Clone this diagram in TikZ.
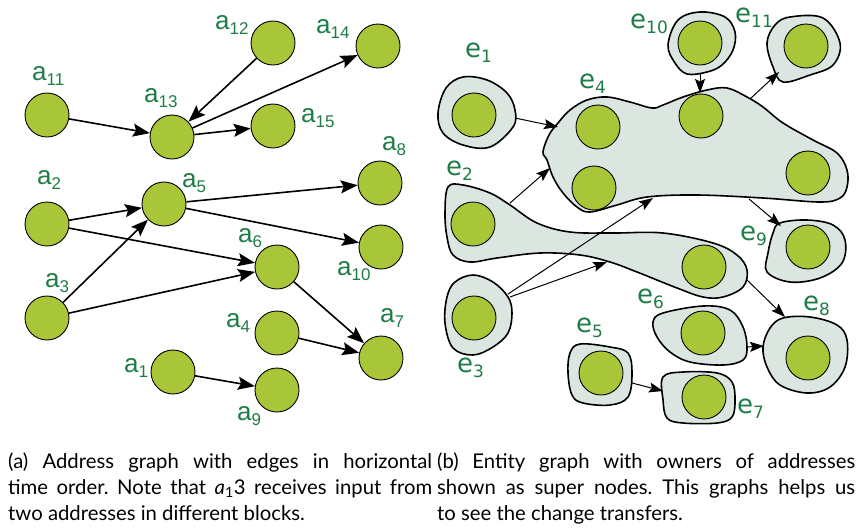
\documentclass[tikz,border=0pt]{standalone}
\usepackage{fontspec}
\setmainfont{Lato}
\newfontfamily\arialf{Liberation Sans}
\newfontfamily\dejaf{DejaVu Sans}
\usetikzlibrary{arrows.meta}
\definecolor{nodegreen}{RGB}{169,198,56}
\definecolor{labgreen}{RGB}{30,125,70}
\definecolor{blobfill}{RGB}{220,230,224}
\tikzset{
 anode/.style={circle, draw=black, line width=0.9pt, fill=nodegreen, minimum size=44pt, inner sep=0pt},
 aedge/.style={line width=1.6pt, -{Stealth[length=17pt,width=13pt,inset=3pt]}},
 eedge/.style={line width=1pt, -{Stealth[length=14pt,width=10pt,inset=2.5pt]}},
 blob/.style={draw=black, line width=1.6pt, fill=blobfill},
 alab/.style={text=labgreen, font=\arialf\fontsize{26}{26}\selectfont, inner sep=0pt, anchor=base west},
 elab/.style={text=labgreen, font=\dejaf\fontsize{26}{26}\selectfont, inner sep=0pt, anchor=base west},
 captext/.style={font=\fontsize{20.3}{20}\selectfont\frenchspacing, inner sep=0pt, anchor=base west},
}
\newcommand{\lsub}[1]{\raisebox{-5pt}{\fontsize{17}{17}\selectfont #1}}
\begin{document}
\begin{tikzpicture}[x=1pt,y=-1pt]
\useasboundingbox (0,0) rectangle (858,531);
% ---------- left graph ----------
\node[anode] (a11) at (47,115) {};
\node[anode] (a13) at (172,137) {};
\node[anode] (a12) at (273,43) {};
\node[anode] (a14) at (378,46) {};
\node[anode] (a15) at (273,126) {};
\node[anode] (a8) at (380,183) {};
\node[anode] (a5) at (164,204) {};
\node[anode] (a2) at (47,224) {};
\node[anode] (a3) at (47,318) {};
\node[anode] (a6) at (277,267) {};
\node[anode] (a10) at (381,247) {};
\node[anode] (a4) at (277,333) {};
\node[anode] (a7) at (381,358) {};
\node[anode] (a1) at (173,372) {};
\node[anode] (a9) at (277,390) {};
\node[alab] (la12) at (215,29) {a\lsub{12}};
\node[alab] (la14) at (316,33) {a\lsub{14}};
\node[alab] (la11) at (32,80) {a\lsub{11}};
\node[alab] (la13) at (144,102) {a\lsub{13}};
\node[alab] (la15) at (301,122) {a\lsub{15}};
\node[alab] (la8) at (382,150) {a\lsub{8}};
\node[alab] (la2) at (37,184) {a\lsub{2}};
\node[alab] (la5) at (182,187) {a\lsub{5}};
\node[alab] (la6) at (238,242) {a\lsub{6}};
\node[alab] (la10) at (337,275) {a\lsub{10}};
\node[alab] (la3) at (45,287) {a\lsub{3}};
\node[alab] (la4) at (226,327) {a\lsub{4}};
\node[alab] (la7) at (380,322) {a\lsub{7}};
\node[alab] (la1) at (124,372) {a\lsub{1}};
\node[alab] (la9) at (237,420) {a\lsub{9}};
\draw[aedge] (a11) -- (a13);
\draw[aedge] (a12) -- (a13);
\draw[aedge] (a13) -- (a14);
\draw[aedge] (a13) -- (a15);
\draw[aedge] (a2) -- (a5);
\draw[aedge] (a2) -- (a6);
\draw[aedge] (a3) -- (a5);
\draw[aedge] (a3) -- (a6);
\draw[aedge] (a5) -- (a8);
\draw[aedge] (a5) -- (a10);
\draw[aedge] (a6) -- (a7);
\draw[aedge] (a4) -- (a7);
\draw[aedge] (a1) -- (a9);
% ---------- right graph: super nodes ----------
\draw[blob] plot[smooth cycle, tension=0.6] coordinates {(543,152) (549,135) (558,123) (570,110) (587,100) (607,97) (630,102) (652,108) (663,105) (683,97) (707,90) (727,88) (747,97) (763,107) (783,123) (813,140) (837,153) (847,170) (847,187) (840,198) (820,202) (763,198) (697,195) (647,197) (617,205) (590,212) (577,207) (563,193) (553,177) (547,160)};
\draw[blob] plot[smooth cycle, tension=0.6] coordinates {(448,187) (463,185) (490,193) (510,205) (537,223) (570,232) (613,233) (663,233) (713,243) (737,255) (747,270) (743,287) (723,297) (703,297) (677,288) (637,272) (610,262) (580,255) (540,253) (497,258) (470,262) (453,255) (447,237) (445,213)};
\draw[blob] plot[smooth cycle, tension=0.6] coordinates {(438,113) (446,88) (463,77) (487,80) (507,93) (515,110) (513,127) (490,147) (463,145) (443,133)};
\draw[blob] plot[smooth cycle, tension=0.6] coordinates {(668,45) (678,20) (700,12) (725,17) (735,32) (733,50) (722,65) (707,72) (687,74) (675,63)};
\draw[blob] plot[smooth cycle, tension=0.6] coordinates {(767,43) (775,25) (790,17) (823,18) (840,43) (833,65) (810,75) (783,82) (773,67)};
\draw[blob] plot[smooth cycle, tension=0.6] coordinates {(473,275) (493,282) (508,297) (512,313) (508,333) (493,347) (473,355) (453,348) (445,323) (447,297) (455,282)};
\draw[blob] plot[smooth cycle, tension=0.6] coordinates {(780,223) (807,220) (833,225) (845,240) (842,263) (820,278) (790,282) (767,272) (768,253) (773,233)};
\draw[blob] plot[smooth cycle, tension=0.6] coordinates {(653,322) (663,313) (703,306) (730,310) (743,327) (747,347) (743,360) (723,365) (690,362) (670,352) (657,337)};
\draw[blob] plot[smooth cycle, tension=0.6] coordinates {(783,318) (810,317) (837,325) (847,340) (845,367) (830,387) (807,393) (780,385) (767,367) (763,347) (770,328)};
\draw[blob] plot[smooth cycle, tension=0.6] coordinates {(570,353) (580,344) (610,347) (628,353) (632,373) (628,397) (610,405) (583,403) (572,395) (568,373)};
\draw[blob] plot[smooth cycle, tension=0.6] coordinates {(663,377) (683,372) (717,373) (732,382) (735,400) (732,417) (717,423) (683,423) (667,418) (663,400)};
% inner address nodes
\node[anode] (e1c) at (474,115) {};
\node[anode] (e4a) at (598,127) {};
\node[anode] (e4b) at (594,188) {};
\node[anode] (e4c) at (701,116) {};
\node[anode] (e4d) at (808,173) {};
\node[anode] (e10c) at (700,43) {};
\node[anode] (e11c) at (806,46) {};
\node[anode] (e2a) at (473,224) {};
\node[anode] (e2b) at (704,267) {};
\node[anode] (e3c) at (474,318) {};
\node[anode] (e9c) at (808,247) {};
\node[anode] (e6c) at (703,333) {};
\node[anode] (e8c) at (808,358) {};
\node[anode] (e5c) at (601,373) {};
\node[anode] (e7c) at (704,397) {};
% labels
\node[elab] (le1) at (465,57) {e\lsub{1}};
\node[elab] (le4) at (579,88) {e\lsub{4}};
\node[elab] (le10) at (630,28) {e\lsub{10}};
\node[elab] (le11) at (735,22) {e\lsub{11}};
\node[elab] (le2) at (446,175) {e\lsub{2}};
\node[elab] (le3) at (457,372) {e\lsub{3}};
\node[elab] (le9) at (740,240) {e\lsub{9}};
\node[elab] (le6) at (637,303) {e\lsub{6}};
\node[elab] (le8) at (803,310) {e\lsub{8}};
\node[elab] (le5) at (576,332) {e\lsub{5}};
\node[elab] (le7) at (737,413) {e\lsub{7}};
% connector end points on super node borders
\coordinate (p1s) at (515,118); \coordinate (p1e) at (558,127);
\coordinate (p2s) at (510,203); \coordinate (p2e) at (550,168);
\coordinate (p3s) at (508,294); \coordinate (p3e) at (653,198);
\coordinate (p4s) at (510,297); \coordinate (p4e) at (607,262);
\coordinate (p5s) at (700,74);  \coordinate (p5e) at (700,93);
\coordinate (p6s) at (750,99);  \coordinate (p6e) at (779,72);
\coordinate (p7s) at (749,199); \coordinate (p7e) at (781,226);
\coordinate (p8s) at (747,280); \coordinate (p8e) at (785,317);
\coordinate (p9s) at (747,347); \coordinate (p9e) at (764,346);
\coordinate (p10s) at (632,383); \coordinate (p10e) at (663,391);
\draw[eedge] (p1s) -- (p1e);
\draw[eedge] (p2s) -- (p2e);
\draw[eedge] (p3s) -- (p3e);
\draw[eedge] (p4s) -- (p4e);
\draw[eedge] (p5s) -- (p5e);
\draw[eedge] (p6s) -- (p6e);
\draw[eedge] (p7s) -- (p7e);
\draw[eedge] (p8s) -- (p8e);
\draw[eedge] (p9s) -- (p9e);
\draw[eedge] (p10s) -- (p10e);
% ---------- captions ----------
\node[captext] (ca1) at (8,468) {\makebox[424pt][s]{(a) Address graph with edges in horizontal}};
\node[captext] (ca2) at (8,494) {\makebox[424pt][s]{time order. Note that {\itshape a}\textsubscript{1}3 receives input from}};
\node[captext] (ca3) at (8,520) {two addresses in different blocks.};
\node[captext] (cb1) at (437,468) {\makebox[418pt][s]{(b) Entity graph with owners of addresses}};
\node[captext] (cb2) at (437,494) {\makebox[418pt][s]{shown as super nodes. This graphs helps us}};
\node[captext] (cb3) at (437,520) {to see the change transfers.};
\end{tikzpicture}
\end{document}
